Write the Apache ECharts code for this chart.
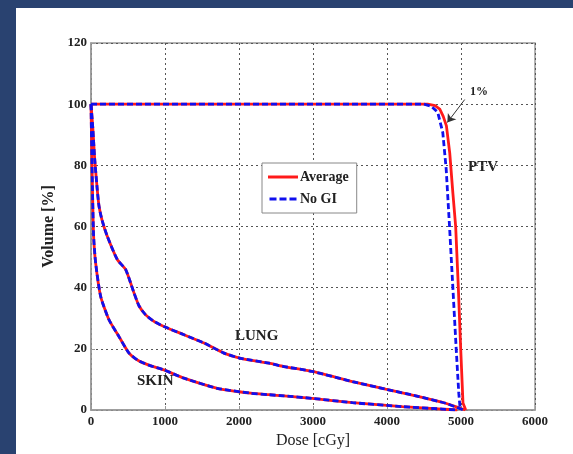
<!DOCTYPE html>
<html>
<head>
<meta charset="utf-8">
<script src="https://cdn.jsdelivr.net/npm/echarts@6/dist/echarts.min.js"></script>
<style>
    html, body { margin: 0; padding: 0; background: #294270; }
    #main { width: 573px; height: 454px; }
</style>
</head>
<body>
<div id="main"></div>
<script>
// dose [cGy], volume [%]
var ptvAvg = [[0, 100], [4550, 100], [4650, 99.5], [4713, 98.4], [4760, 96], [4803, 92.9], [4848, 84], [4890, 71], [4928, 60], [4964, 40], [4996, 20], [5027, 2.3], [5064, 0]];
var ptvNoGI = [[0, 100], [4500, 100], [4600, 99.3], [4686, 97.3], [4754, 90.7], [4800, 78.7], [4845, 60], [4890, 40], [4935, 20], [4970, 5.5], [4990, 0]];
var lungAvg = [[0, 100], [25, 92], [50, 82], [85, 72], [108, 66.7], [150, 62], [220, 56.8], [355, 49.2], [469, 45.9], [581, 38.3], [650, 34], [739, 31.1], [850, 29], [986, 27.3], [1257, 24.6], [1527, 21.9], [1797, 18.6], [2023, 16.9], [2405, 15.3], [2608, 14.2], [2991, 12.6], [3532, 9.3], [3982, 6.8], [4432, 4.4], [4793, 2.2], [4996, 0.5], [5060, 0]];
var lungNoGI = [[0, 100], [25, 92], [50, 82], [85, 72], [108, 66.7], [150, 62], [220, 56.8], [355, 49.2], [469, 45.9], [581, 38.3], [650, 34], [739, 31.1], [850, 29], [986, 27.3], [1257, 24.6], [1527, 21.9], [1797, 18.6], [2023, 16.9], [2405, 15.3], [2608, 14.2], [2991, 12.6], [3532, 9.3], [3982, 6.8], [4432, 4.4], [4793, 2.2], [4990, 0.4], [5040, 0]];
var skinAvg = [[0, 100], [10, 85], [20, 72], [35, 57], [63, 48], [131, 37.1], [243, 29.5], [378, 24], [514, 18.6], [650, 16], [800, 14.5], [986, 13.1], [1257, 10.4], [1707, 7.1], [2158, 5.5], [2405, 5.0], [2608, 4.6], [2991, 3.8], [3532, 2.4], [4207, 1.1], [4748, 0.3], [4950, 0]];
var skinNoGI = [[0, 100], [10, 85], [20, 72], [35, 57], [63, 48], [131, 37.1], [243, 29.5], [378, 24], [514, 18.6], [650, 16], [800, 14.5], [986, 13.1], [1257, 10.4], [1707, 7.1], [2158, 5.5], [2405, 5.0], [2608, 4.6], [2991, 3.8], [3532, 2.4], [4207, 1.1], [4748, 0.3], [4940, 0]];
// arrow for the "1%" note, in data units
var arrowFrom = [5050, 101.5];
var arrowTo = [4815, 94];

var serif = '"Liberation Serif", "DejaVu Serif", serif';
var myChart = echarts.init(document.getElementById('main'));

function avgLine(data, smooth) {
    return {
        name: 'Average', type: 'line', data: data, showSymbol: false, symbol: 'none',
        smooth: smooth,
        lineStyle: { color: '#ff1a1a', width: 2.8 }, itemStyle: { color: '#ff1a1a' },
        animation: false, z: 2
    };
}
function noGILine(data, smooth) {
    return {
        name: 'No GI', type: 'line', data: data, showSymbol: false, symbol: 'none',
        smooth: smooth,
        lineStyle: { color: '#1010ee', width: 2.8, type: [6, 3] }, itemStyle: { color: '#1010ee' },
        animation: false, z: 3
    };
}

var series = [
    avgLine(ptvAvg, false), avgLine(lungAvg, 0.2), avgLine(skinAvg, 0.2),
    noGILine(ptvNoGI, false), noGILine(lungNoGI, 0.2), noGILine(skinNoGI, 0.2)
];
series[0].markLine = {
    silent: true,
    symbol: ['none', 'arrow'],
    symbolSize: 8,
    label: { show: false },
    lineStyle: { color: '#333', width: 1, type: 'solid' },
    data: [[{ coord: arrowFrom }, { coord: arrowTo }]]
};

var option = {
    backgroundColor: 'transparent',
    animation: false,
    graphic: [
        { type: 'rect', z: -10, shape: { x: 16, y: 8, width: 557, height: 446 }, style: { fill: '#ffffff' } },
        { type: 'text', left: 470, top: 86, style: { text: '1%', font: 'bold 12px ' + serif, fill: '#222' } },
        { type: 'text', left: 468, top: 160, style: { text: 'PTV', font: 'bold 15px ' + serif, fill: '#222' } },
        { type: 'text', left: 235, top: 329, style: { text: 'LUNG', font: 'bold 15px ' + serif, fill: '#222' } },
        { type: 'text', left: 137, top: 374, style: { text: 'SKIN', font: 'bold 15px ' + serif, fill: '#222' } }
    ],
    legend: {
        data: [
            { name: 'Average', icon: 'rect' },
            { name: 'No GI', icon: 'path://M0,0h7v3h-7z M10,0h7v3h-7z M20,0h7v3h-7z' }
        ],
        orient: 'vertical',
        left: 262,
        top: 163,
        width: 99,
        padding: [7, 8, 7, 6],
        itemWidth: 30,
        itemHeight: 3,
        itemGap: 8,
        backgroundColor: '#fff',
        borderColor: '#888',
        borderWidth: 1,
        borderRadius: 0,
        textStyle: { fontFamily: serif, fontWeight: 'bold', fontSize: 14, color: '#222', padding: [0, 0, 0, -3] }
    },
    grid: {
        left: 91, right: 38, top: 43, bottom: 44,
        show: true, borderColor: '#999', borderWidth: 1.5, backgroundColor: 'transparent'
    },
    xAxis: {
        type: 'value', min: 0, max: 6000, interval: 1000,
        name: 'Dose [cGy]', nameLocation: 'middle', nameGap: 20,
        nameTextStyle: { fontFamily: serif, fontSize: 16, color: '#222' },
        axisLine: { show: true, lineStyle: { color: '#999', width: 1.5 } },
        axisTick: { show: true, inside: true, length: 4, lineStyle: { color: '#999' } },
        axisLabel: { fontFamily: serif, fontWeight: 'bold', fontSize: 13, color: '#222', margin: 5,
            formatter: function (v) { return String(v); } },
        splitLine: { show: true, lineStyle: { color: '#555', width: 1, type: [2, 3] } }
    },
    yAxis: {
        type: 'value', min: 0, max: 120, interval: 20,
        name: 'Volume [%]', nameLocation: 'middle', nameGap: 30, nameRotate: 90,
        nameTextStyle: { fontFamily: serif, fontWeight: 'bold', fontSize: 16, color: '#222' },
        axisLine: { show: true, lineStyle: { color: '#999', width: 1.5 } },
        axisTick: { show: true, inside: true, length: 4, lineStyle: { color: '#999' } },
        axisLabel: { fontFamily: serif, fontWeight: 'bold', fontSize: 13, color: '#222', margin: 4 },
        splitLine: { show: true, lineStyle: { color: '#555', width: 1, type: [2, 3] } }
    },
    series: series
};

myChart.setOption(option);
</script>
</body>
</html>
